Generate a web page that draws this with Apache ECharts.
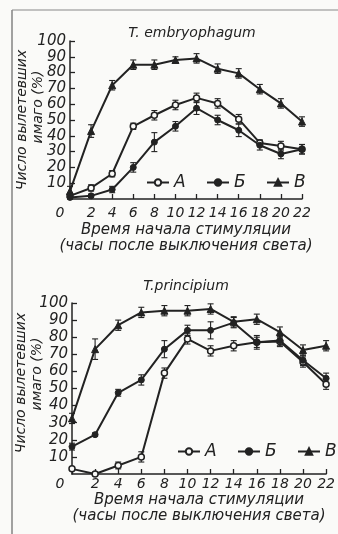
<!DOCTYPE html>
<html><head><meta charset="utf-8">
<script src="https://cdn.jsdelivr.net/npm/echarts@6/dist/echarts.min.js"></script>
<style>html,body{margin:0;padding:0;background:#fafaf8;}#c{width:338px;height:534px;}</style>
</head><body><div id="c"></div>
<script>
const hours = [0,2,4,6,8,10,12,14,16,18,20,22];
const xTicks = [0,2,4,6,8,10,12,14,16,18,20,22];
const yTicks = [10,20,30,40,50,60,70,80,90,100];
const seriesNames = ['A','Б','В'];

// T. embryophagum
const topA = [2,7,16,46,53,59.5,64,60.5,50.5,35.5,33.5,31.5];
const topB = [1,2,6,20,36,46,57.5,50,43.5,34,28.5,31.5];
const topV = [5,43,72,85,85,88,89,82.5,79.5,69.5,60.5,49];
const topAerr = [1,2,2,2,3,3,3,3,3,2,3,3];
const topBerr = [1,1,2,3,6,3,4,3,4,3,3,3];
const topVerr = [3,4,3,3,3,2,3,3,3,3,3,3];

// T. principium
const botA = [3,0,5,10,59,79,72,75,77,77.5,65.5,52.5];
const botB = [16,23,47.5,55,73,84,84,88.5,77,78,66.5,56];
const botV = [32.5,73,87,94.5,95.5,95.5,96.5,89,90.5,83,72.5,75];
const botAerr = [1,1,2,3,3,3,3,3,4,3,3,3];
const botBerr = [2,1,2,3,5,3,5,3,3,3,3,3];
const botVerr = [3,6,3,3,3,3,3,3,3,3,3,3];

const INK = '#222';
const FONT = 'DejaVu Sans';
const chart = echarts.init(document.getElementById('c'));

function pts(vals){ return hours.map((h,i)=>[h, vals[i]]); }
function errs(vals, e){ return hours.map((h,i)=>[h, vals[i]-e[i], vals[i]+e[i]]); }

function renderErr(params, api){
  const x = api.value(0), lo = api.value(1), hi = api.value(2);
  const p1 = api.coord([x, lo]), p2 = api.coord([x, hi]);
  const w = 3, st = {stroke: INK, lineWidth: 1.1};
  return {type:'group', children:[
    {type:'line', shape:{x1:p1[0],y1:p1[1],x2:p2[0],y2:p2[1]}, style:st},
    {type:'line', shape:{x1:p1[0]-w,y1:p1[1],x2:p1[0]+w,y2:p1[1]}, style:st},
    {type:'line', shape:{x1:p2[0]-w,y1:p2[1],x2:p2[0]+w,y2:p2[1]}, style:st}
  ]};
}

const markers = {
  'A': {symbol:'circle', symbolSize:6, itemStyle:{color:'#fafaf8', borderColor:INK, borderWidth:1.5}},
  'Б': {symbol:'circle', symbolSize:6, itemStyle:{color:INK, borderColor:INK, borderWidth:1}},
  'В': {symbol:'triangle', symbolSize:7, itemStyle:{color:INK, borderColor:INK, borderWidth:1}}
};

function lineSeries(name, vals, idx){
  const m = markers[name];
  return {type:'line', name:name, xAxisIndex:idx, yAxisIndex:idx, data:pts(vals),
    symbol:m.symbol, symbolSize:m.symbolSize, itemStyle:m.itemStyle,
    lineStyle:{color:INK, width:2}, z:3, animation:false};
}
function errSeries(vals, e, idx){
  return {type:'custom', name:'err', xAxisIndex:idx, yAxisIndex:idx, data:errs(vals,e),
    renderItem:renderErr, encode:{x:0, y:[1,2]}, z:2, animation:false, silent:true};
}

const labelStyle = {fontFamily:FONT, fontStyle:'italic', fontSize:14, color:INK};

function xAxis(idx, gridIdx, shift, labelMargin, nameGap){
  return {type:'value', gridIndex:gridIdx, min:0, max:22, interval:2,
    axisLine:{lineStyle:{color:INK, width:1.5}},
    axisTick:{inside:true, length:5, lineStyle:{color:INK, width:1.3}},
    splitLine:{show:false},
    axisLabel:Object.assign({}, labelStyle, {margin:labelMargin,
      formatter:v => v===0 ? '{z|0}' : String(v),
      rich:{z:{fontFamily:FONT, fontStyle:'italic', fontSize:14, color:INK, padding:[0,shift,0,0]}}}),
    name:'Время начала стимуляции\n(часы после выключения света)',
    nameLocation:'middle', nameGap:nameGap,
    nameTextStyle:{fontFamily:FONT, fontStyle:'italic', fontSize:15, color:INK, lineHeight:16}
  };
}
function yAxis(gridIdx){
  return {type:'value', gridIndex:gridIdx, min:0, max:100, interval:10,
    axisLine:{show:true, lineStyle:{color:INK, width:1.5}},
    axisTick:{show:true, inside:true, length:5, lineStyle:{color:INK, width:1.3}},
    splitLine:{show:false},
    axisLabel:Object.assign({}, labelStyle, {fontSize:15, margin:4, showMinLabel:false,
      formatter:v => yTicks.includes(v) ? String(v) : ''})
  };
}

function legendItem(name, left, top){
  return {data:[name], orient:'horizontal', left:left, top:top, padding:0,
    itemWidth:22, itemHeight:8,
    textStyle:{fontFamily:FONT, fontStyle:'italic', fontSize:17, color:INK},
    selectedMode:false};
}
const topLegendLeft = [146, 206, 266];
const botLegendLeft = [177, 237, 297];

const option = {
  backgroundColor:'#fafaf8',
  animation:false,
  title:[
    {text:'T. embryophagum', left:187, top:21, textAlign:'center',
     textStyle:{fontFamily:FONT, fontStyle:'italic', fontWeight:'normal', fontSize:14, color:INK}},
    {text:'T.principium', left:181, top:274, textAlign:'center',
     textStyle:{fontFamily:FONT, fontStyle:'italic', fontWeight:'normal', fontSize:14, color:INK}}
  ],
  grid:[
    {left:70, right:36, top:41, height:158},
    {left:72, right:6, top:303, height:171}
  ],
  xAxis:[xAxis(0,0,20,7,23), xAxis(1,1,24,3,16)],
  yAxis:[yAxis(0), yAxis(1)],
  legend: seriesNames.map((n,i)=>legendItem(n, topLegendLeft[i], 174))
    .concat(seriesNames.map((n,i)=>legendItem(n, botLegendLeft[i], 443))),
  graphic:[
    {type:'line', shape:{x1:12,y1:10,x2:12,y2:534}, style:{stroke:'#666', lineWidth:1.2}},
    {type:'line', shape:{x1:12,y1:10,x2:338,y2:10}, style:{stroke:'#888', lineWidth:1}},
    {type:'text', x:22, y:120, rotation:Math.PI/2,
     style:{text:'Число вылетевших', fontFamily:FONT, fontStyle:'italic', fontSize:14, fill:INK, align:'center', verticalAlign:'middle'}},
    {type:'text', x:38, y:107, rotation:Math.PI/2,
     style:{text:'имаго (%)', fontFamily:FONT, fontStyle:'italic', fontSize:14, fill:INK, align:'center', verticalAlign:'middle'}},
    {type:'text', x:21, y:383, rotation:Math.PI/2,
     style:{text:'Число вылетевших', fontFamily:FONT, fontStyle:'italic', fontSize:14, fill:INK, align:'center', verticalAlign:'middle'}},
    {type:'text', x:37, y:374, rotation:Math.PI/2,
     style:{text:'имаго (%)', fontFamily:FONT, fontStyle:'italic', fontSize:14, fill:INK, align:'center', verticalAlign:'middle'}}
  ],
  series:[
    errSeries(topA, topAerr, 0), errSeries(topB, topBerr, 0), errSeries(topV, topVerr, 0),
    lineSeries('A', topA, 0), lineSeries('Б', topB, 0), lineSeries('В', topV, 0),
    errSeries(botA, botAerr, 1), errSeries(botB, botBerr, 1), errSeries(botV, botVerr, 1),
    lineSeries('A', botA, 1), lineSeries('Б', botB, 1), lineSeries('В', botV, 1)
  ]
};
chart.setOption(option);
</script>
</body></html>
